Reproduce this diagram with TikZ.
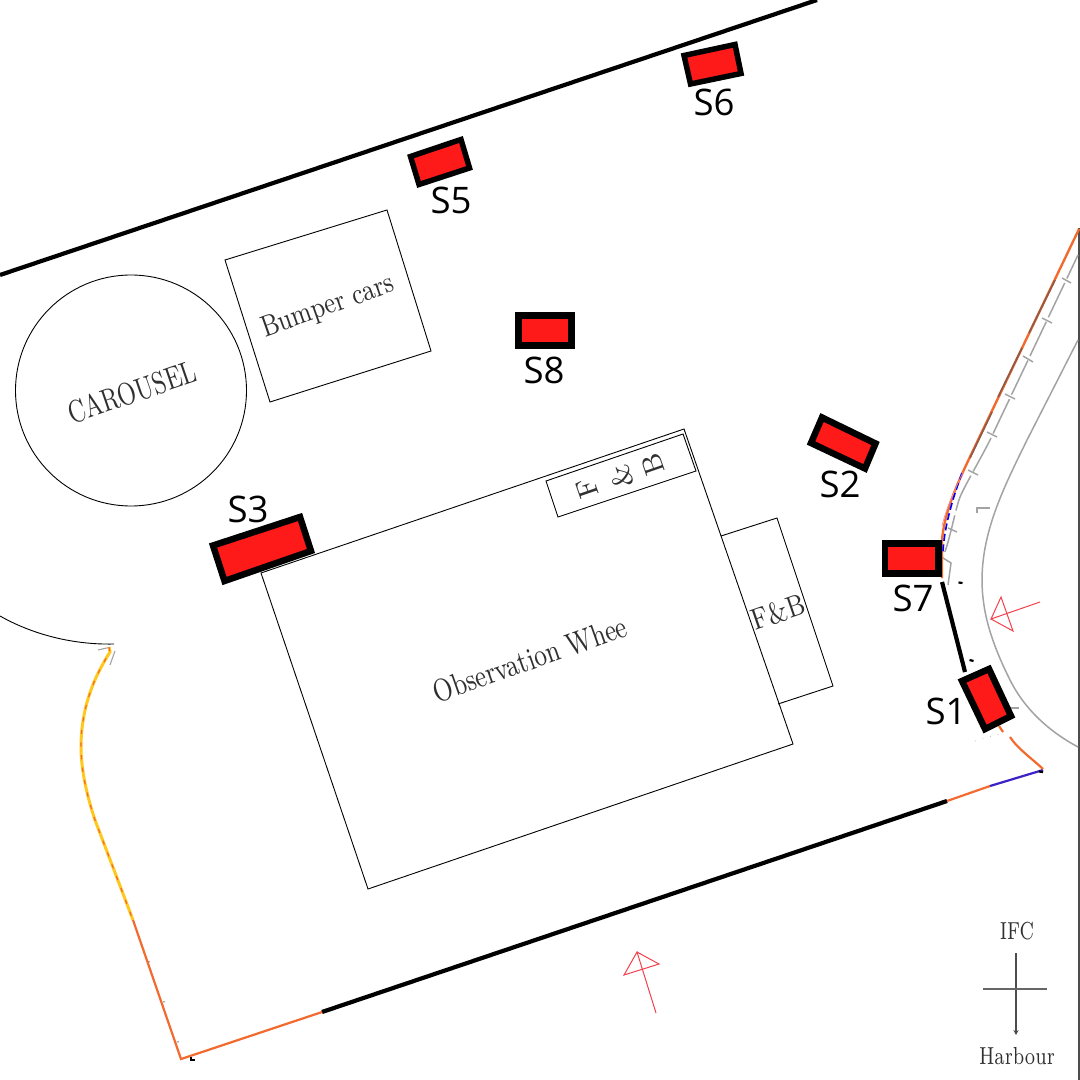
\documentclass[tikz,border=0pt]{standalone}
\usepackage{fontspec}
\usetikzlibrary{arrows.meta}
\newfontfamily\labelfont{Open Sans}
\definecolor{standred}{HTML}{FF1A1A}
\definecolor{routeorange}{HTML}{F26A2E}
\definecolor{routebrown}{HTML}{8C5A48}
\definecolor{routeyellow}{HTML}{FFC81E}
\definecolor{routeblue}{HTML}{3A22C8}
\definecolor{roadgray}{HTML}{A3A3A3}
\definecolor{arrowred}{HTML}{F2404C}
\definecolor{serifink}{HTML}{303030}
\tikzset{
  px/.style={line width=#1*0.2835pt},
  plan/.style={draw=black,px=0.9,line join=miter},
  wall/.style={draw=black,px=4.2},
  stand/.style={draw=black,fill=standred,px=6.5,line join=miter},
  thinstand/.style={draw=black,fill=standred,px=5.5,line join=miter},
  road/.style={draw=roadgray,px=1.5},
  route/.style={draw=routeorange,px=2.2},
  redarrow/.style={draw=arrowred,px=1,line join=miter},
  standlabel/.style={font=\labelfont\fontsize{10.4pt}{12pt}\selectfont,text=black,inner sep=0pt},
  seriflabel/.style={font=\fontsize{#1}{10pt}\selectfont,text=serifink,inner sep=0pt},
  tick/.style={draw=black,px=2.2}
}
\begin{document}
\begin{tikzpicture}[x=0.01cm,y=-0.01cm]
\useasboundingbox (0,0) rectangle (1080,1080);
\fill[white] (0,0) rectangle (1080,1080);
\clip (0,0) rectangle (1080,1080);

% walls
\draw[wall] (0,275) -- (817,0);
\draw[wall] (322,1012) -- (947,801);
\draw[wall] (942,582) -- (965,672);

% site plan outlines
\draw[plan] (131,390.5) circle[radius=115.5];
\draw[plan] (225,260) -- (387,210) -- (431,351) -- (270,402) -- cycle;
\draw[plan] (261,573) -- (684,429) -- (793,744) -- (368,889) -- cycle;
\draw[plan] (546,481) -- (683,434) -- (696,471) -- (558,517) -- cycle;
\draw[plan] (721,536) -- (777,518) -- (833,686) -- (778,704);
\draw[plan] (0,616) .. controls (30,633) and (70,645) .. (114,644);

% road edges
\draw[draw=black!70,px=2] (1079,228) -- (1079,1080);
\draw[road,dash pattern=on 10.8pt off 1.4pt,dash phase=3.4pt] (1078,255) -- (990,440) .. controls (980,460) and (965,485) .. (960,497)
  .. controls (955,510) and (950,540) .. (943,557);
\draw[road] (1062,278) -- (1071,283);
\draw[road] (1042,318) -- (1052,323);
\draw[road] (1023,356) -- (1033,362);
\draw[road] (1005,394) -- (1015,399);
\draw[road] (987,432) -- (997,437);
\draw[road] (968,470) -- (978,475);
\draw[road] (948,528) -- (957,532);
\draw[road] (943,558) -- (951,563) -- (948,585);
\draw[road,px=1.1] (977,513) -- (977,508) -- (990,508);
\draw[road] (1078,340) -- (1027,440) .. controls (1005,485) and (982,530) .. (982,580)
  .. controls (982,610) and (990,640) .. (1010,680)
  .. controls (1025,710) and (1050,732) .. (1078,747);
\draw[roadgray,px=1.1] (98,650) -- (109,647.5);
\draw[roadgray,px=1.1] (115,651) -- (110,665);
\draw[roadgray,px=1.1] (1005,708) -- (1019,708);
\draw[roadgray,px=1.2] (148,962) -- (150,961.5);
\draw[roadgray,px=1.2] (163,1002) -- (165,1001.5);
\draw[roadgray,px=1.2] (177,1042) -- (179,1041.5);
\draw[black!25,px=0.8,dotted] (975,741) -- (1003,733);

% routes
\draw[draw=routeyellow,px=3] (109,647) -- (110,652) .. controls (100,668) and (81,700) .. (81,747)
  .. controls (81,775) and (90,805) .. (95,820) -- (133,920);
\draw[route,px=1.2,dash pattern=on 1.2pt off 2.4pt] (109,647) -- (110,652) .. controls (100,668) and (81,700) .. (81,747)
  .. controls (81,775) and (90,805) .. (95,820) -- (133,920);
\draw[route] (133,920) -- (181,1059) -- (322,1012);
\draw[route] (947,801) -- (990,786);
\draw[draw=routeblue,px=2.2] (990,786) -- (1043,770);
\draw[route] (1043,769) .. controls (1030,757) and (1017,748) .. (1010,737);
\draw[route] (999,726) -- (1003,732);
\draw[route,px=2.4] (1079,229) -- (978,440) .. controls (965,468) and (945,505) .. (942,540) -- (942,578);
\draw[routebrown,px=1.6] (1055,280) -- (1029,333);
\draw[routebrown,px=1.6] (1022,348) -- (998,397);
\draw[routebrown,px=1.6] (992,412) -- (970,458);
\draw[blue,px=1.6,dash pattern=on 2pt off 1pt] (962,473) .. controls (955,492) and (944,525) .. (943,552);
\draw[arrowred!60,px=0.7] (963,472) .. controls (955,490) and (946,508) .. (942,526);

% small marks
\draw[tick] (958.5,582.5) -- (962.5,583);
\draw[tick] (969.5,660) -- (973.5,661);
\draw[tick] (1039,771.5) -- (1043,772);
\draw[tick,px=1.6] (191,1057) -- (191,1060) -- (195,1060);

% red view arrows
\draw[redarrow] (1040,602) -- (991,619) -- (1001,597) -- (1013,631) -- (991,619);
\draw[redarrow] (656,1013) -- (637,952) -- (624,975) -- (659,964) -- (637,952);

% stands
\draw[thinstand] (684,55.5) -- (735,44.5) -- (741,73.5) -- (690.5,84) -- cycle;
\draw[thinstand] (410.5,156.5) -- (461,139.5) -- (469.5,168) -- (419,184.5) -- cycle;
\draw[stand] (518.5,315.5) rectangle (571.5,345.5);
\draw[thinstand,px=6.5] (822,417.5) -- (875.5,443.5) -- (865,468.5) -- (811,443) -- cycle;
\draw[stand] (885,543.5) rectangle (938.5,573.5);
\draw[stand] (962,681) -- (989,669) -- (1011,716) -- (985,729) -- cycle;
\draw[stand] (213,545.5) -- (300,517) -- (311,551) -- (224.5,581) -- cycle;

% stand labels
\node[standlabel] (s6) at (714,102) {S6};
\node[standlabel] (s5) at (451,200) {S5};
\node[standlabel] (s8) at (544,370) {S8};
\node[standlabel] (s2) at (840,484) {S2};
\node[standlabel] (s7) at (913,598) {S7};
\node[standlabel] (s1) at (946,711) {S1};
\node[standlabel] (s3) at (248,509) {S3};

% attraction labels
\node[seriflabel=9pt,rotate=19] (carousel) at (132,392) {\scalebox{0.74}[1]{CAROUSEL}};
\node[seriflabel=8.5pt,rotate=19.5] (bumper) at (328,307) {\scalebox{0.81}[1]{Bumper cars}};
\node[seriflabel=9pt,rotate=19.5] (wheel) at (530,659) {\scalebox{0.775}[1]{Observation Whee}};
\node[seriflabel=8.5pt,rotate=19] (fb) at (778,612) {\scalebox{0.83}[1]{F\&B}};
\node[seriflabel=8pt,rotate=109] (f1) at (587,488) {F};
\node[seriflabel=8pt,rotate=109] (amp) at (621,477) {\&};
\node[seriflabel=8pt,rotate=109] (b1) at (653,465) {B};

% compass
\node[seriflabel=7pt] (ifc) at (1017,931) {\scalebox{0.72}[1]{IFC}};
\node[seriflabel=7pt] (harbour) at (1017,1056) {\scalebox{0.74}[1]{Harbour}};
\coordinate (ntop) at (1016,953);
\coordinate (nbot) at (1016,1035);
\coordinate (wleft) at (983,989);
\coordinate (wright) at (1047,989);
\draw[draw=black!70,px=1.2,-{Stealth[length=1.4pt,width=1.5pt]}] (ntop) -- (nbot);
\draw[draw=black!60,px=1.2] (wleft) -- (wright);
\end{tikzpicture}
\end{document}
